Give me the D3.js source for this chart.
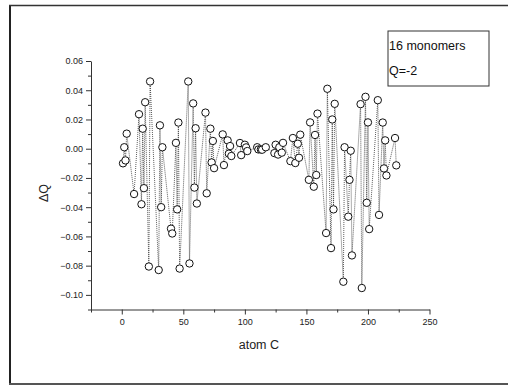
<!DOCTYPE html>
<head>
<meta charset="utf-8">
<script src="https://d3js.org/d3.v7.min.js"></script>
<style>
body { margin: 0; background: #fff; }
svg { display: block; font-family: Arial, "Liberation Sans", sans-serif; }
</style>
</head>
<body>
<svg id="chart"></svg>
<script>

// data
var atomIdx = [1, 2, 3, 4, 10, 14, 16, 17, 18, 19, 22, 23, 30, 31, 32, 33, 40, 41, 44, 45, 46, 47,
  54, 55, 58, 59, 60, 61, 68, 69, 72, 73, 74, 75, 82, 83, 86, 87, 88, 89, 96, 97, 100, 101, 102,
  110, 111, 113, 114, 117, 124, 125, 127, 128, 130, 131, 137, 139, 141, 143, 144, 145,
  152, 153, 156, 157, 158, 159, 166, 167, 170, 171, 172, 173, 180, 181, 184, 185, 186, 187,
  194, 195, 198, 199, 200, 201, 208, 209, 212, 213, 214, 215, 222, 223];
var deltaQ = [-0.010, 0.001, -0.008, 0.0103, -0.031, 0.0236, -0.038, 0.0137, -0.027, 0.0318, -0.0806, 0.046,
  -0.083, 0.016, -0.040, 0.001, -0.0547, -0.058, 0.004, -0.0415, 0.0179, -0.082,
  0.046, -0.0785, 0.031, -0.0266, 0.014, -0.0375, 0.0247, -0.0305, 0.0137, -0.0094, 0.0053, -0.0133,
  0.0098, -0.0112, 0.0057, -0.0034, 0.0018, -0.005, 0.0039, -0.0044, 0.0027, 0.0009, -0.0016,
  0.001, -0.0005, -0.0005, -0.0007, 0.001, -0.003, 0.0027, -0.004, 0.001, -0.0027, 0.004,
  -0.0085, 0.0073, -0.0098, 0.0034, -0.0062, 0.0096,
  -0.0213, 0.018, -0.026, 0.0094, -0.018, 0.024, -0.0577, 0.041, -0.068, 0.020, -0.0415, 0.0307,
  -0.091, 0.001, -0.0465, -0.0213, -0.0014, -0.073,
  0.0305, -0.0953, 0.0355, -0.037, 0.018, -0.055, 0.0332, -0.0453, 0.0179, -0.0135, 0.0057, -0.0183,
  0.0073, -0.0114];
var xTicks = [0, 50, 100, 150, 200, 250];
var yTicks = [-0.10, -0.08, -0.06, -0.04, -0.02, 0.00, 0.02, 0.04, 0.06];
var legendLines = ["16 monomers", "Q=-2"];

var width = 508, height = 385;
var svg = d3.select("#chart").attr("width", width).attr("height", height);

// outer frame (left, top, bottom only)
svg.append("line").attr("x1", 10).attr("x2", 10).attr("y1", 5).attr("y2", 385)
  .attr("stroke", "#222").attr("stroke-width", 2);
svg.append("line").attr("x1", 9).attr("x2", 508).attr("y1", 5.5).attr("y2", 5.5)
  .attr("stroke", "#333").attr("stroke-width", 1.5);
svg.append("line").attr("x1", 9).attr("x2", 508).attr("y1", 384).attr("y2", 384)
  .attr("stroke", "#555").attr("stroke-width", 2);

var x = d3.scaleLinear().domain([-25, 250]).range([91, 429.5]);
var y = d3.scaleLinear().domain([-0.11, 0.06]).range([309.5, 61]);

// axes
var xAxis = svg.append("g").attr("transform", "translate(0,309.5)")
  .call(d3.axisBottom(x).tickValues(xTicks).tickSize(5).tickSizeOuter(0).tickPadding(4));
svg.append("g").attr("transform", "translate(0,309.5)")
  .call(d3.axisBottom(x).tickValues([-25, 25, 75, 125, 175, 225]).tickSize(3).tickFormat("").tickSizeOuter(0))
  .select(".domain").remove();

var yAxis = svg.append("g").attr("transform", "translate(91,0)")
  .call(d3.axisLeft(y).tickValues(yTicks).tickSize(5).tickSizeOuter(0).tickPadding(3)
    .tickFormat(d3.format(".2f")));
svg.append("g").attr("transform", "translate(91,0)")
  .call(d3.axisLeft(y).tickValues(d3.range(-0.11, 0.06, 0.02).map(v => +v.toFixed(2))).tickSize(3).tickFormat("").tickSizeOuter(0))
  .select(".domain").remove();

svg.selectAll(".domain, .tick line").attr("stroke", "#333");
svg.selectAll(".tick text").attr("font-size", 9).attr("fill", "#222");

// axis titles
svg.append("text").attr("x", x(100) + 14).attr("y", 349).attr("text-anchor", "middle")
  .attr("font-size", 12.5).attr("fill", "#222").text("atom C");
svg.append("text").attr("transform", "translate(48,193) rotate(-90)").attr("text-anchor", "middle")
  .attr("font-size", 12.5).attr("fill", "#222").text("ΔQ");

// dotted connecting line and circles
var pts = atomIdx.map((a, i) => [a, deltaQ[i]]);
svg.append("path").datum(pts)
  .attr("d", d3.line().x(d => x(d[0])).y(d => y(d[1])))
  .attr("fill", "none").attr("stroke", "#333").attr("stroke-width", 0.8)
  .attr("stroke-dasharray", "1,1");
svg.selectAll("circle.pt").data(pts).join("circle").attr("class", "pt")
  .attr("cx", d => x(d[0])).attr("cy", d => y(d[1])).attr("r", 3.7)
  .attr("fill", "#fff").attr("stroke", "#111").attr("stroke-width", 1);

// legend box
svg.append("rect").attr("x", 388).attr("y", 31).attr("width", 101).attr("height", 55)
  .attr("fill", "#fff").attr("stroke", "#333").attr("stroke-width", 1);
svg.selectAll("text.leg").data(legendLines).join("text").attr("class", "leg")
  .attr("x", 389).attr("y", (d, i) => 50 + i * 25).attr("font-size", 12.5).attr("fill", "#111")
  .text(d => d);
</script>
</body>
